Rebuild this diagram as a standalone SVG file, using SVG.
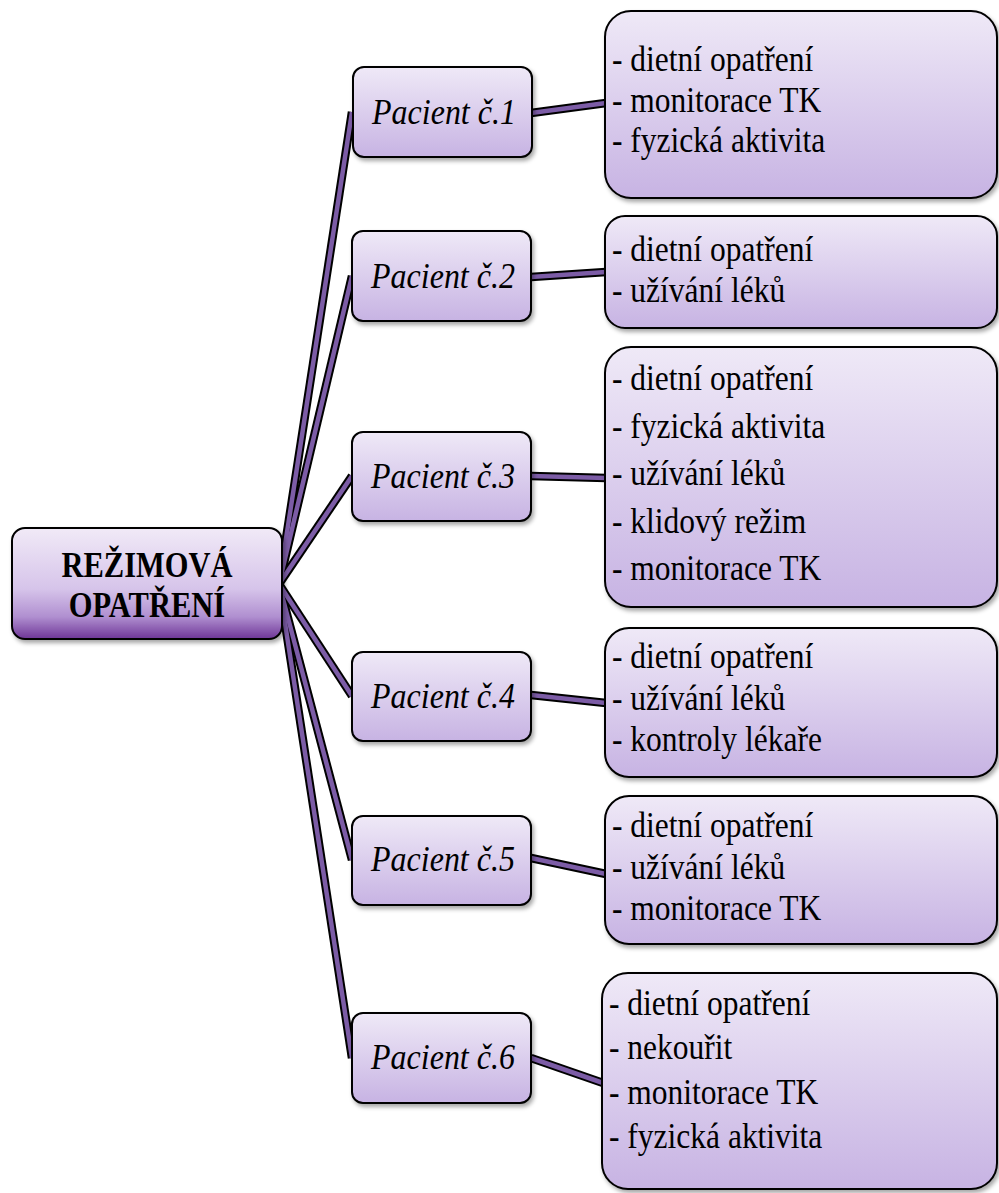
<svg xmlns="http://www.w3.org/2000/svg" width="999" height="1193" viewBox="0 0 999 1193">
<defs>
<linearGradient id="gBox" x1="0" y1="0" x2="0" y2="1">
<stop offset="0" stop-color="#efe9f7"/>
<stop offset="1" stop-color="#c7b3e3"/>
</linearGradient>
<linearGradient id="gRoot" x1="0" y1="0" x2="0" y2="1">
<stop offset="0" stop-color="#f1eaf7"/>
<stop offset="0.55" stop-color="#d6c4ea"/>
<stop offset="0.8" stop-color="#b08fd0"/>
<stop offset="1" stop-color="#6e3597"/>
</linearGradient>
<filter id="sh" x="-10%" y="-10%" width="125%" height="130%">
<feDropShadow dx="2" dy="3" stdDeviation="2" flood-color="#000" flood-opacity="0.35"/>
</filter>
</defs>
<style>
.box{fill:url(#gBox);stroke:#000;stroke-width:2;filter:url(#sh)}
.root{fill:url(#gRoot);stroke:#000;stroke-width:2;filter:url(#sh)}
.ol{stroke:#000;stroke-width:8.5;fill:none;stroke-linecap:butt}
.in{stroke:#7c5ca6;stroke-width:4.5;fill:none;stroke-linecap:butt}
.t{font-family:"Liberation Serif","DejaVu Serif",serif;font-size:31.5px;fill:#000}
.p{font-family:"Liberation Serif","DejaVu Serif",serif;font-size:32px;font-style:italic;fill:#000;text-anchor:middle}
.r{font-family:"Liberation Serif","DejaVu Serif",serif;font-size:30.5px;font-weight:bold;fill:#000;text-anchor:middle}
</style>
<g id="connectors">
<g class="ol">
<path d="M279 584 L352 112"/><path d="M279 584 L352 276"/><path d="M279 584 L352 476"/>
<path d="M279 584 L352 696"/><path d="M279 584 L352 860"/><path d="M279 584 L352 1058"/>
<path d="M531 113 L606 103"/><path d="M531 277 L606 272"/><path d="M531 476 L606 478"/>
<path d="M531 695 L606 703"/><path d="M531 858 L606 874"/><path d="M531 1058 L606 1084"/>
</g>
<g class="in">
<path d="M279 584 L352 112"/><path d="M279 584 L352 276"/><path d="M279 584 L352 476"/>
<path d="M279 584 L352 696"/><path d="M279 584 L352 860"/><path d="M279 584 L352 1058"/>
<path d="M531 113 L606 103"/><path d="M531 277 L606 272"/><path d="M531 476 L606 478"/>
<path d="M531 695 L606 703"/><path d="M531 858 L606 874"/><path d="M531 1058 L606 1084"/>
</g>
</g>
<g id="root">
<rect class="root" x="12" y="528" width="270" height="111" rx="13"/>
<text class="r" transform="translate(147 577) scale(1 1.18)">REŽIMOVÁ</text>
<text class="r" transform="translate(147 617) scale(1 1.18)">OPATŘENÍ</text>
</g>
<g id="p1"><rect class="box" x="353" y="67" width="179" height="90" rx="11"/><text class="p" transform="translate(444 124) scale(1 1.15)">Pacient č.1</text></g>
<g id="p2"><rect class="box" x="352" y="231" width="179" height="90" rx="11"/><text class="p" transform="translate(443 288) scale(1 1.15)">Pacient č.2</text></g>
<g id="p3"><rect class="box" x="352" y="432" width="179" height="89" rx="11"/><text class="p" transform="translate(443 488) scale(1 1.15)">Pacient č.3</text></g>
<g id="p4"><rect class="box" x="352" y="652" width="179" height="89" rx="11"/><text class="p" transform="translate(443 708) scale(1 1.15)">Pacient č.4</text></g>
<g id="p5"><rect class="box" x="352" y="816" width="179" height="89" rx="11"/><text class="p" transform="translate(443 871) scale(1 1.15)">Pacient č.5</text></g>
<g id="p6"><rect class="box" x="352" y="1013" width="179" height="90" rx="11"/><text class="p" transform="translate(443 1069) scale(1 1.15)">Pacient č.6</text></g>
<g id="d1"><rect class="box" x="605" y="11" width="392" height="187" rx="26"/>
<text class="t" transform="translate(612 71) scale(1 1.15)">- dietní opatření</text><text class="t" transform="translate(612 112) scale(1 1.15)">- monitorace TK</text><text class="t" transform="translate(612 152) scale(1 1.15)">- fyzická aktivita</text></g>
<g id="d2"><rect class="box" x="605" y="216" width="392" height="112" rx="20"/>
<text class="t" transform="translate(612 261) scale(1 1.15)">- dietní opatření</text><text class="t" transform="translate(612 302) scale(1 1.15)">- užívání léků</text></g>
<g id="d3"><rect class="box" x="605" y="347" width="392" height="260" rx="26"/>
<text class="t" transform="translate(612 390) scale(1 1.15)">- dietní opatření</text><text class="t" transform="translate(612 438) scale(1 1.15)">- fyzická aktivita</text><text class="t" transform="translate(612 485) scale(1 1.15)">- užívání léků</text><text class="t" transform="translate(612 533) scale(1 1.15)">- klidový režim</text><text class="t" transform="translate(612 580) scale(1 1.15)">- monitorace TK</text></g>
<g id="d4"><rect class="box" x="605" y="628" width="392" height="149" rx="24"/>
<text class="t" transform="translate(612 668) scale(1 1.15)">- dietní opatření</text><text class="t" transform="translate(612 710) scale(1 1.15)">- užívání léků</text><text class="t" transform="translate(612 751) scale(1 1.15)">- kontroly lékaře</text></g>
<g id="d5"><rect class="box" x="605" y="796" width="392" height="148" rx="24"/>
<text class="t" transform="translate(612 837) scale(1 1.15)">- dietní opatření</text><text class="t" transform="translate(612 879) scale(1 1.15)">- užívání léků</text><text class="t" transform="translate(612 920) scale(1 1.15)">- monitorace TK</text></g>
<g id="d6"><rect class="box" x="602" y="973" width="395" height="216" rx="26"/>
<text class="t" transform="translate(609 1015) scale(1 1.15)">- dietní opatření</text><text class="t" transform="translate(609 1059) scale(1 1.15)">- nekouřit</text><text class="t" transform="translate(609 1104) scale(1 1.15)">- monitorace TK</text><text class="t" transform="translate(609 1148) scale(1 1.15)">- fyzická aktivita</text></g>
</svg>
